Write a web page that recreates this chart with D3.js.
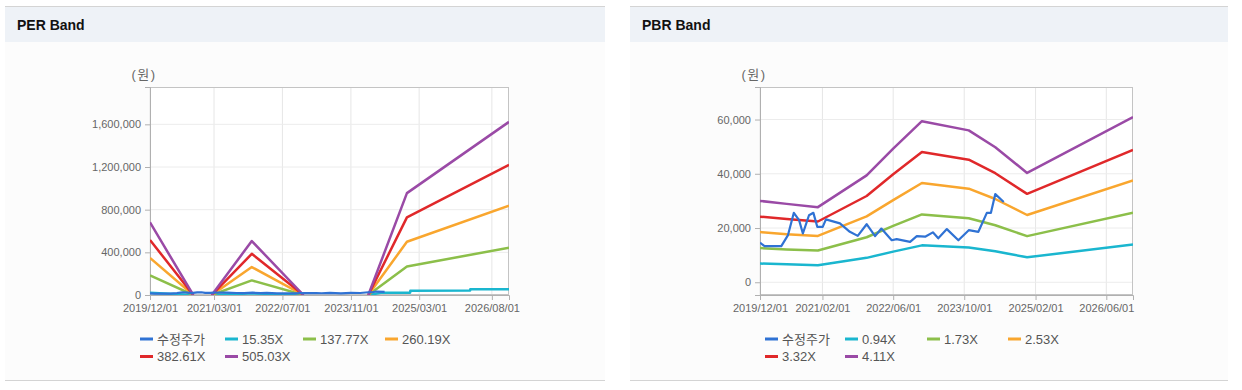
<!DOCTYPE html>
<html>
<head>
<meta charset="utf-8">
<script src="https://cdn.jsdelivr.net/npm/d3@7"></script>
<style>
  body { margin: 0; background: #fff; }
  svg { display: block; font-family: "Liberation Sans", Arial, "Noto Sans CJK KR", sans-serif; }
</style>
</head>
<body>
<svg id="chart" width="1242" height="390"></svg>
<script>
// adjusted price (수정주가), same series on both charts
var priceDates = ["2019-12-01","2020-01-01","2020-04-25","2020-06-10","2020-07-20","2020-08-25","2020-09-20","2020-11-01","2020-12-01","2020-12-28","2021-02-03","2021-02-25","2021-06-01","2021-08-08","2021-10-01","2021-12-01","2022-01-28","2022-03-12","2022-05-22","2022-06-25","2022-09-25","2022-11-10","2023-01-06","2023-02-28","2023-04-06","2023-06-04","2023-08-22","2023-11-01","2024-01-06","2024-03-04","2024-04-01","2024-05-01","2024-06-28"];
var priceValues = [14600,13300,13300,17400,25600,22900,18000,24700,25600,20400,20400,23200,21700,18600,17100,21400,17000,19800,15500,15900,14900,17000,16800,18400,16200,19600,15500,19200,18600,25600,25600,32500,29600];

// PER band (null = negative EPS, not drawn)
var perDates = ["2019-12-01","2020-10-04","2020-10-05","2021-02-13","2021-11-25","2022-11-28","2022-11-29","2024-03-04","2024-12-04","2026-12-01"];
var per13777 = [184000,0,null,0,137000,0,null,0,268000,443000];
var per26019 = [348000,0,null,0,262000,0,null,0,499000,837000];
var per38261 = [516000,0,null,0,386000,0,null,0,728000,1220000];
var per50503 = [681000,0,null,0,506000,0,null,0,955000,1623000];
var per1535Dates = ["2019-12-01","2020-10-04","2020-10-05","2021-02-13","2021-11-25","2022-11-28","2022-11-29","2024-03-04","2024-06-01","2024-12-27","2024-12-28","2026-02-27","2026-02-28","2026-12-01"];
var per1535 = [20700,0,null,0,15400,0,null,0,20000,22000,40000,42000,53000,54000];
var perNames = ["수정주가","15.35X","137.77X","260.19X","382.61X","505.03X"];
var perXTicks = ["2019/12/01","2021/03/01","2022/07/01","2023/11/01","2025/03/01","2026/08/01"];
var perYTicks = [0,400000,800000,1200000,1600000];

// PBR band
var pbrDates = ["2019-12-01","2020-06-01","2021-01-01","2021-12-01","2022-06-01","2022-12-15","2023-11-01","2024-05-01","2024-12-05","2026-12-01"];
var pbr094 = [6900,6600,6300,9000,11300,13600,12800,11400,9200,13900];
var pbr173 = [12600,12100,11700,16600,20800,25000,23600,21000,17000,25600];
var pbr253 = [18500,17700,17100,24300,30300,36600,34500,30700,24800,37500];
var pbr332 = [24200,23300,22400,31800,39800,48000,45200,40200,32600,48800];
var pbr411 = [30000,28900,27700,39400,49300,59400,56000,49800,40300,60900];
var pbrNames = ["수정주가","0.94X","1.73X","2.53X","3.32X","4.11X"];
var pbrXTicks = ["2019/12/01","2021/02/01","2022/06/01","2023/10/01","2025/02/01","2026/06/01"];
var pbrYTicks = [0,20000,40000,60000];

var colors = ["#2f72d4","#1ab6cf","#8cbf4a","#f9a62e","#e0282a","#9a4aa6"];

var parseIso = d3.timeParse("%Y-%m-%d");
var parseTick = d3.timeParse("%Y/%m/%d");
var svg = d3.select("#chart");

function zip(dates, vals) {
  return dates.map(function(d, i) { return {date: parseIso(d), v: vals[i]}; });
}

function drawPanel(o) {
  var g = svg.append("g");
  // panel
  g.append("rect").attr("x", o.px0).attr("y", 6).attr("width", o.px1 - o.px0).attr("height", 374).attr("fill", "#fcfcfc");
  g.append("rect").attr("x", o.px0).attr("y", 7).attr("width", o.px1 - o.px0).attr("height", 35).attr("fill", "#eef2f7");
  g.append("line").attr("x1", o.px0).attr("x2", o.px1).attr("y1", 6.5).attr("y2", 6.5).attr("stroke", "#d4d4d4");
  g.append("line").attr("x1", o.px0).attr("x2", o.px1).attr("y1", 380.5).attr("y2", 380.5).attr("stroke", "#d4d4d4");
  g.append("text").attr("x", o.px0 + 12).attr("y", 30).attr("font-size", 14).attr("font-weight", "bold")
    .attr("fill", "#111").text(o.title);

  var x = d3.scaleTime().domain([parseIso("2019-12-01"), parseIso("2026-12-01")]).range([o.left, o.right]);
  var y = d3.scaleLinear().domain(o.yDomain).range([o.bottom, o.top]);

  g.append("rect").attr("x", o.left).attr("y", o.top).attr("width", o.right - o.left)
    .attr("height", o.bottom - o.top).attr("fill", "#fff");

  // grid
  var xt = o.xTicks.map(parseTick);
  g.append("g").selectAll("line").data(xt).enter().append("line")
    .attr("x1", function(d) { return x(d); }).attr("x2", function(d) { return x(d); })
    .attr("y1", o.top).attr("y2", o.bottom).attr("stroke", "#e6e6e6");
  g.append("g").selectAll("line").data(o.yTicks).enter().append("line")
    .attr("x1", o.left).attr("x2", o.right)
    .attr("y1", function(d) { return y(d); }).attr("y2", function(d) { return y(d); }).attr("stroke", "#ececec");

  g.append("rect").attr("x", o.left + 0.5).attr("y", o.top + 0.5).attr("width", o.right - o.left - 1)
    .attr("height", o.bottom - o.top - 1).attr("fill", "none").attr("stroke", "#c4c4c4");

  var xa = g.append("g").attr("transform", "translate(0," + o.bottom + ")")
    .call(d3.axisBottom(x).tickValues(xt).tickFormat(d3.timeFormat("%Y/%m/%d")).tickSize(5).tickPadding(4));
  var ya = g.append("g").attr("transform", "translate(" + o.left + ",0)")
    .call(d3.axisLeft(y).tickValues(o.yTicks).tickFormat(d3.format(",")).tickSize(5).tickPadding(4));
  [xa, ya].forEach(function(a) {
    a.select(".domain").attr("stroke", "#b0b0b0");
    a.selectAll(".tick line").attr("stroke", "#b0b0b0");
    a.selectAll("text").attr("fill", "#666").attr("font-size", 11)
      .attr("font-family", "\"Liberation Sans\", Arial, sans-serif");
  });

  g.append("text").attr("x", o.left - 6).attr("y", 79).attr("font-size", 13).attr("fill", "#666")
    .attr("text-anchor", "middle").attr("letter-spacing", 1.5).text("(원)");

  // lines
  var clipId = "clip" + o.left;
  g.append("clipPath").attr("id", clipId).append("rect")
    .attr("x", o.left).attr("y", o.top).attr("width", o.right - o.left).attr("height", o.bottom - o.top);
  var line = d3.line().defined(function(d) { return d.v != null; })
    .x(function(d) { return x(d.date); }).y(function(d) { return y(d.v); });
  var lg = g.append("g").attr("clip-path", "url(#" + clipId + ")");
  o.bands.forEach(function(s, i) {
    lg.append("path").datum(zip(s.dates, s.values)).attr("d", line)
      .attr("fill", "none").attr("stroke", colors[i + 1]).attr("stroke-width", 2.5)
      .attr("stroke-linejoin", "round");
  });
  lg.append("path").datum(zip(priceDates, priceValues)).attr("d", line)
    .attr("fill", "none").attr("stroke", colors[0]).attr("stroke-width", 2.2)
    .attr("stroke-linejoin", "round");

  // legend
  var leg = g.append("g").selectAll("g").data(o.names).enter().append("g")
    .attr("transform", function(d, i) {
      return "translate(" + (o.legX + o.legCols[i % 4]) + "," + (339 + Math.floor(i / 4) * 17.5) + ")";
    });
  leg.append("line").attr("x1", 0).attr("x2", 13).attr("y1", 0).attr("y2", 0)
    .attr("stroke", function(d, i) { return colors[i]; }).attr("stroke-width", 3);
  leg.append("text").attr("x", 17).attr("y", 0).attr("dy", "0.36em").attr("font-size", 13)
    .attr("fill", "#555").text(function(d) { return d; });
}

drawPanel({
  title: "PER Band", px0: 5, px1: 605,
  left: 150, right: 509, top: 87, bottom: 295,
  yDomain: [0, 1950000], yTicks: perYTicks, xTicks: perXTicks,
  bands: [
    {dates: per1535Dates, values: per1535},
    {dates: perDates, values: per13777},
    {dates: perDates, values: per26019},
    {dates: perDates, values: per38261},
    {dates: perDates, values: per50503}
  ],
  names: perNames, legX: 140, legCols: [0, 85, 163, 245]
});
drawPanel({
  title: "PBR Band", px0: 630, px1: 1228,
  left: 760, right: 1133, top: 87, bottom: 295,
  yDomain: [-4700, 72000], yTicks: pbrYTicks, xTicks: pbrXTicks,
  bands: [
    {dates: pbrDates, values: pbr094},
    {dates: pbrDates, values: pbr173},
    {dates: pbrDates, values: pbr253},
    {dates: pbrDates, values: pbr332},
    {dates: pbrDates, values: pbr411}
  ],
  names: pbrNames, legX: 765, legCols: [0, 80, 162, 243]
});
</script>
</body>
</html>
